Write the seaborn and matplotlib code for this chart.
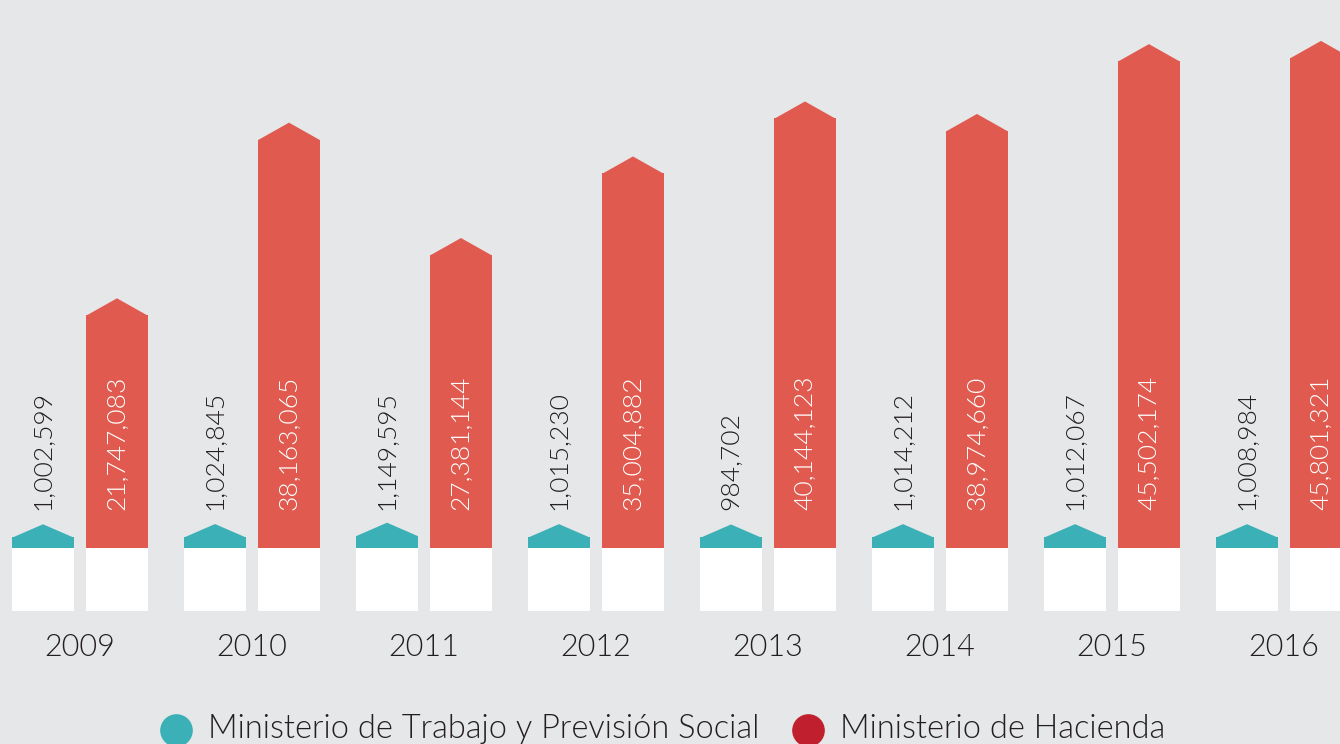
import matplotlib
matplotlib.use("Agg")
import matplotlib.pyplot as plt
import numpy as np
import pandas as pd
import seaborn as sns
from matplotlib.patches import Polygon, Rectangle

# --- data -------------------------------------------------------------
years = ["2009", "2010", "2011", "2012", "2013", "2014", "2015", "2016"]
trabajo = [1002599, 1024845, 1149595, 1015230, 984702, 1014212, 1012067, 1008984]
hacienda = [21747083, 38163065, 27381144, 35004882, 40144123, 38974660, 45502174, 45801321]
series = ["Ministerio de Trabajo y Previsión Social", "Ministerio de Hacienda"]

# --- style ------------------------------------------------------------
BG = "#e6e7e8"
BAR_COLORS = ["#3bb0b6", "#e05a4f"]
DOT_COLORS = ["#3bb0b6", "#c0202e"]
LABEL_COLORS = ["#231f20", "#ffffff"]
TEXT = "#231f20"
CAP_PX = [13, 17]          # height of the pointed roof on each bar, px
FONT = "Lato"
WEIGHT = 300

W, H = 1340, 744
PX_PER_UNIT = 10.7e-6      # vertical scale: pixels per unit of value
BASE_PX = 196              # distance of the zero line from the bottom edge
SLOT_PX = 172              # distance between year groups
FIRST_PX = 80              # centre of the first year group

sns.set_theme(style="white")
plt.rcParams["font.family"] = [FONT, "DejaVu Sans"]

df = pd.DataFrame({
    "year": years * 2,
    "serie": [series[0]] * len(years) + [series[1]] * len(years),
    "valor": trabajo + hacienda,
})

fig = plt.figure(figsize=(W / 100, H / 100), dpi=100)
fig.patch.set_facecolor(BG)
ax = fig.add_axes([0, 0, 1, 1])
ax.set_facecolor(BG)

sns.barplot(data=df, x="year", y="valor", hue="serie", hue_order=series,
            palette=BAR_COLORS, saturation=1, width=0.86, gap=0.16,
            errorbar=None, linewidth=0, legend=False, ax=ax)

ax.set_xlim(-FIRST_PX / SLOT_PX, (W - FIRST_PX) / SLOT_PX)
ax.set_ylim(-BASE_PX / PX_PER_UNIT, (H - BASE_PX) / PX_PER_UNIT)
ax.axis("off")


def to_units(px):
    return px / PX_PER_UNIT


for k, container in enumerate(ax.containers):
    cap = to_units(CAP_PX[k])
    for bar in container:
        x, w, h = bar.get_x(), bar.get_width(), bar.get_height()
        # pointed roof
        ax.add_patch(Polygon([(x, h - to_units(0.5)), (x + w / 2, h + cap),
                              (x + w, h - to_units(0.5))], closed=True,
                             facecolor=BAR_COLORS[k], edgecolor="none"))
        # white plinth under the bar
        ax.add_patch(Rectangle((x, -to_units(63)), w, to_units(63),
                               facecolor="white", edgecolor="none"))
        # value label
        ax.text(x + w / 2, to_units(38), f"{int(round(h)):,}", rotation=90,
                ha="center", va="bottom", fontsize=19, fontweight=WEIGHT,
                color=LABEL_COLORS[k])

# year labels under each group
for i, yr in enumerate(years):
    ax.text(i, -to_units(647 - (H - BASE_PX)), yr, ha="center", va="center",
            fontsize=22, fontweight=WEIGHT, color=TEXT)

# legend with round markers
legend_items = [(176, 208, 0), (808, 840, 1)]
for cx, tx, k in legend_items:
    fig.lines.append(plt.Line2D([cx / W], [1 - 730 / H], marker="o",
                                markersize=22.5, color=DOT_COLORS[k],
                                linestyle="none", transform=fig.transFigure))
    fig.text(tx / W, 1 - 729 / H, series[k], ha="left", va="center",
             fontsize=23.5, fontweight=WEIGHT, color=TEXT)

fig.savefig("out.png", dpi=100, facecolor=BG)
